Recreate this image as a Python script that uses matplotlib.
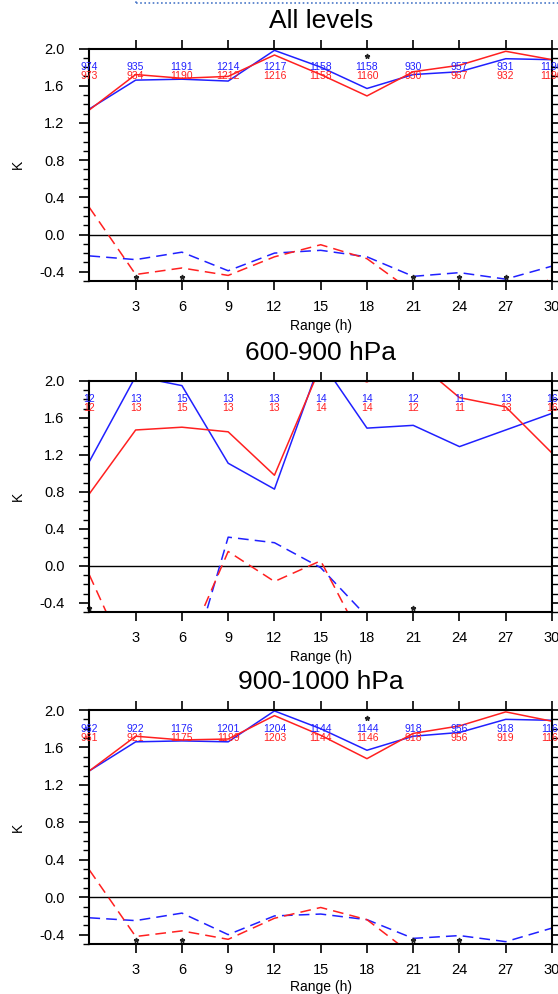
import matplotlib
matplotlib.use("Agg")
import matplotlib.pyplot as plt
from matplotlib.lines import Line2D
from matplotlib.ticker import MultipleLocator, FixedLocator

plt.rcParams['font.family'] = ['Liberation Sans', 'DejaVu Sans']

ranges = [0, 3, 6, 9, 12, 15, 18, 21, 24, 27, 30]
xtick_vals = [3, 6, 9, 12, 15, 18, 21, 24, 27, 30]
titles = ["All levels", "600-900 hPa", "900-1000 hPa"]

# --- All levels ---
all_blue_solid = [1.35, 1.66, 1.67, 1.65, 1.98, 1.80, 1.57, 1.72, 1.75, 1.89, 1.88]
all_red_solid = [1.34, 1.72, 1.68, 1.70, 1.93, 1.72, 1.49, 1.75, 1.82, 1.97, 1.88]
all_blue_dash = [-0.23, -0.27, -0.19, -0.39, -0.20, -0.17, -0.24, -0.45, -0.41, -0.48, -0.34]
all_red_dash = [0.29, -0.43, -0.36, -0.44, -0.24, -0.11, -0.26, -0.62, -0.70, -0.90, -0.45]
all_blue_n = ["974", "935", "1191", "1214", "1217", "1158", "1158", "930", "957", "931", "1190"]
all_red_n = ["973", "934", "1190", "1212", "1216", "1158", "1160", "930", "967", "932", "1190"]
all_star_top = [18]
all_star_bot = [3, 6, 21, 24, 27]

# --- 600-900 hPa ---
mid_blue_solid = [1.13, 2.05, 1.95, 1.11, 0.83, 2.22, 1.49, 1.52, 1.29, 1.47, 1.65]
mid_red_solid = [0.78, 1.47, 1.50, 1.45, 0.98, 2.16, 1.99, 2.24, 1.82, 1.72, 1.22]
mid_blue_dash = [-1.6, -1.5, -1.4, 0.31, 0.25, -0.02, -0.55, -0.8, -0.9, -0.9, -0.8]
mid_red_dash = [-0.10, -1.2, -1.0, 0.155, -0.17, 0.054, -0.9, -1.0, -1.1, -1.0, -0.9]
mid_blue_n = ["12", "13", "15", "13", "13", "14", "14", "12", "11", "13", "16"]
mid_red_n = ["12", "13", "15", "13", "13", "14", "14", "12", "11", "13", "16"]
mid_star_top = []
mid_star_bot = [0, 21]

# --- 900-1000 hPa ---
low_blue_solid = [1.35, 1.66, 1.67, 1.66, 1.99, 1.80, 1.57, 1.72, 1.76, 1.90, 1.89]
low_red_solid = [1.35, 1.72, 1.68, 1.69, 1.94, 1.73, 1.48, 1.75, 1.83, 1.98, 1.88]
low_blue_dash = [-0.22, -0.25, -0.17, -0.40, -0.20, -0.18, -0.24, -0.44, -0.41, -0.475, -0.33]
low_red_dash = [0.29, -0.42, -0.36, -0.45, -0.225, -0.11, -0.24, -0.62, -0.70, -0.90, -0.46]
low_blue_n = ["962", "922", "1176", "1201", "1204", "1144", "1144", "918", "956", "918", "1160"]
low_red_n = ["961", "921", "1175", "1199", "1203", "1144", "1146", "918", "956", "919", "1160"]
low_star_top = [18]
low_star_bot = [3, 6, 21, 24]

panels = [
    (all_blue_solid, all_red_solid, all_blue_dash, all_red_dash, all_blue_n, all_red_n, all_star_top, all_star_bot),
    (mid_blue_solid, mid_red_solid, mid_blue_dash, mid_red_dash, mid_blue_n, mid_red_n, mid_star_top, mid_star_bot),
    (low_blue_solid, low_red_solid, low_blue_dash, low_red_dash, low_blue_n, low_red_n, low_star_top, low_star_bot),
]

W, H = 558, 994
fig = plt.figure(figsize=(W / 100, H / 100), dpi=100)

left_px, right_px = 89.4, 552.0
tops_px = [48.5, 381.0, 710.0]
bots_px = [281.0, 612.0, 944.0]
xlabel_pads = [4, 4, 2]

BLUE = "#2020ff"
RED = "#ff2020"

for i, (bs, rs, bd, rd, bn, rn, st, sb) in enumerate(panels):
    t, b = tops_px[i], bots_px[i]
    ax = fig.add_axes([left_px / W, 1 - b / H, (right_px - left_px) / W, (b - t) / H])
    ax.set_xlim(0, 30)
    ax.set_ylim(-0.5, 2.0)
    ax.axhline(0, color="black", lw=1.0, zorder=1)
    ax.plot(ranges, bs, color=BLUE, lw=1.1)
    ax.plot(ranges, rs, color=RED, lw=1.1)
    ax.plot(ranges, bd, color=BLUE, lw=1.1, dashes=(7, 4))
    ax.plot(ranges, rd, color=RED, lw=1.1, dashes=(7, 4))
    for x, s in zip(ranges, bn):
        ax.text(x, 1.80, s, color=BLUE, fontsize=7.5, ha="center", va="center", clip_on=False)
    for x, s in zip(ranges, rn):
        ax.text(x, 1.705, s, color=RED, fontsize=7.5, ha="center", va="center", clip_on=False)
    if st:
        ax.plot(st, [1.915] * len(st), ls="none", marker="*", ms=3.5, color="#222222", clip_on=False)
    if sb:
        ax.plot(sb, [-0.455] * len(sb), ls="none", marker="*", ms=3.5, color="#222222", clip_on=False)

    ax.xaxis.set_major_locator(FixedLocator(xtick_vals))
    ax.yaxis.set_minor_locator(MultipleLocator(0.1))
    ax.set_yticks([-0.4, 0.0, 0.4, 0.8, 1.2, 1.6, 2.0])
    ax.set_yticklabels(["-0.4", "0.0", "0.4", "0.8", "1.2", "1.6", "2.0"])
    ax.tick_params(axis="x", which="major", direction="out", length=6.5, width=1.2,
                   top=True, bottom=True, labelsize=10.5, pad=7)
    ax.tick_params(axis="y", which="major", direction="out", length=7, width=1.2,
                   left=True, right=True, labelsize=10.5, pad=11)
    ax.tick_params(axis="y", which="minor", direction="out", length=4.5, width=1.0,
                   left=True, right=True)
    for sp in ax.spines.values():
        sp.set_linewidth(1.5)
    ax.set_xlabel("Range (h)", fontsize=10, labelpad=xlabel_pads[i])
    ax.set_ylabel("K", fontsize=10, labelpad=10)
    ax.set_title(titles[i], fontsize=19, pad=15)

# dotted border fragment at top
fig.add_artist(Line2D([136 / W, 1.0], [1 - 3 / H, 1 - 3 / H], color="#4a78c8", lw=1.2, ls=(0, (1, 1.5))))
fig.add_artist(Line2D([136 / W, 136 / W], [1 - 3 / H, 1 - 0 / H], color="#4a78c8", lw=1.2, ls=(0, (1, 1.5))))

fig.savefig("out.png", dpi=100)
